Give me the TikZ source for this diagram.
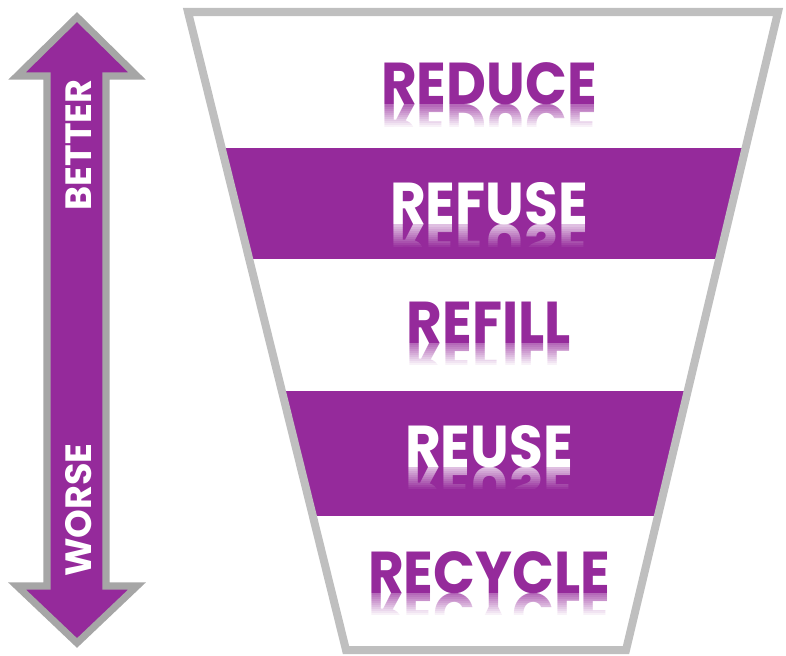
\documentclass[tikz,border=0pt]{standalone}
\usepackage{fontspec}
\newfontfamily\wordfont{Poppins}
\usetikzlibrary{calc}
\definecolor{Purp} {HTML}{952A9B}
\definecolor{Rim}  {HTML}{BFBFBF}
\definecolor{ARim} {HTML}{A6A6A6}
\tikzset{
  word/.style={
    font=\wordfont\bfseries\fontsize{42}{42}\selectfont,
    anchor=base, inner sep=0pt, xscale=0.93,
  },
  side/.style={
    font=\wordfont\bfseries\fontsize{26}{26}\selectfont,
    text=white, inner sep=0pt, rotate=90,
  },
  rim/.style={draw=Rim, line width=5.7pt},
  scalearr/.style={draw=ARim, fill=Purp, line width=5pt},
}
% word with its mirrored copy fading out below the base line
\newcommand\rword[5]{%
  \node[word, text=#4] (#1) at (489,#2) {#3};
  \begin{scope}
    \clip ($(#1.base west)+(-5,0)$) rectangle ($(#1.base east)+(5,23)$);
    \node[word, text=#4, yscale=-1, text opacity=0.7] (#1m) at (489,#2) {#3};
    \foreach \i [evaluate=\i as \op using \i/11] in {0,...,11}
      \fill[#5, opacity=\op] ($(#1.base west)+(-6,2*\i)$)
           rectangle ($(#1.base east)+(6,2*\i+2.4)$);
    \fill[#5] ($(#1.base west)+(-6,22)$) rectangle ($(#1.base east)+(6,28)$);
  \end{scope}
}

\begin{document}
\begin{tikzpicture}[x=0.025cm,y=-0.025cm]
\useasboundingbox (0,0) rectangle (786,655);

% better / worse scale
\draw[scalearr] (77,17) -- (137,76) -- (106,76) -- (106,586) -- (137,586)
   -- (77,643) -- (17,586) -- (47,586) -- (47,76) -- (17,76) -- cycle;
\node[side] (better) at (79,145) {BETTER};
\node[side] (worse)  at (79,510) {WORSE};

% funnel
\coordinate (tl) at (188,12);
\coordinate (tr) at (778,12);
\coordinate (br) at (626,650);
\coordinate (bl) at (346,650);
\begin{scope}
  \clip (tl) -- (tr) -- (br) -- (bl) -- cycle;
  \fill[Purp] (150,148) rectangle (800,259);
  \fill[Purp] (150,391) rectangle (800,516);
\end{scope}

\rword{reduce}{105}{REDUCE}{Purp}{white}
\rword{refuse}{225}{REFUSE}{white}{Purp}
\rword{refill}{343}{REFILL}{Purp}{white}
\rword{reuse}{467}{REUSE}{white}{Purp}
\rword{recycle}{593}{RECYCLE}{Purp}{white}

\draw[rim] (tl) -- (tr) -- (br) -- (bl) -- cycle;

\end{tikzpicture}
\end{document}
